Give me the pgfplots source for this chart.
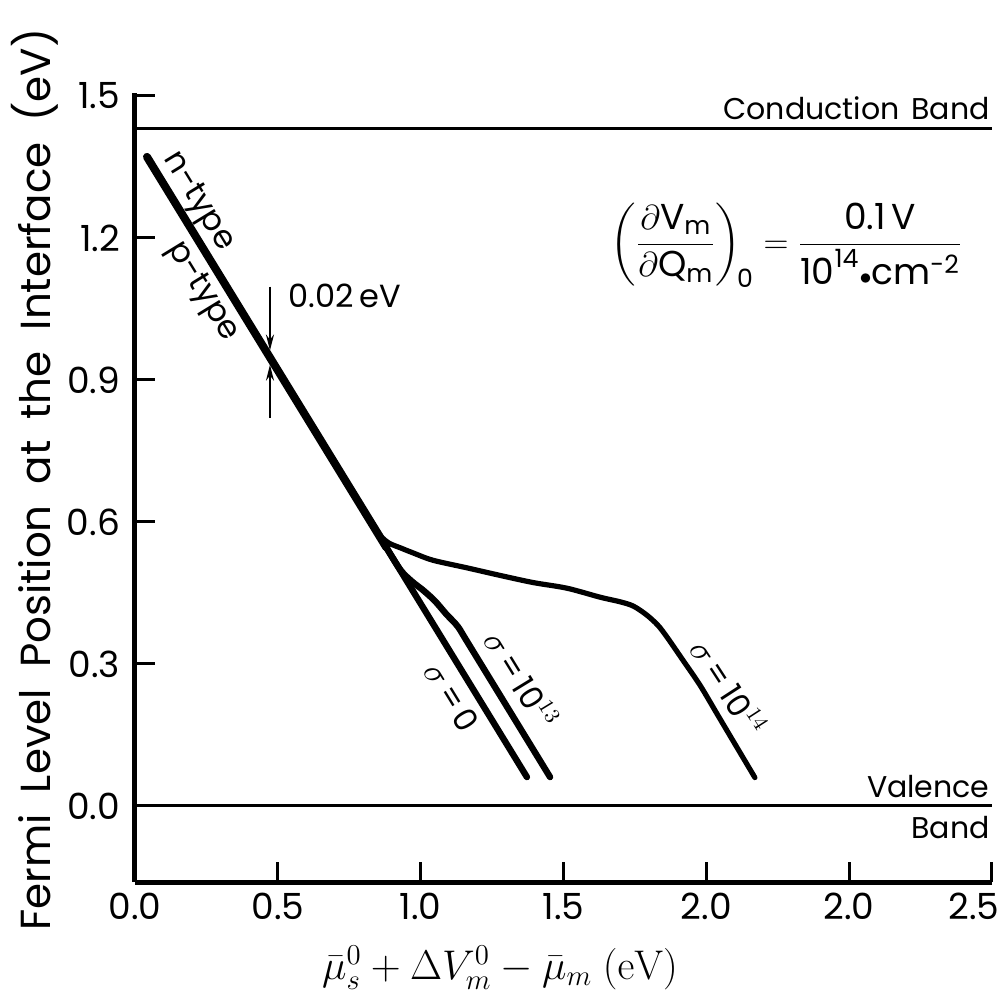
\documentclass[border=0pt]{standalone}
\usepackage{amsmath}
\usepackage{pgfplots}
\pgfplotsset{compat=1.18}
\usepackage[no-math]{fontspec}
\setmainfont{Poppins}
\usetikzlibrary{arrows.meta}
\begin{document}
\begin{tikzpicture}
\begin{axis}[
  scale only axis, width=428.5pt, height=394.5pt,
  xmin=0, xmax=3, ymin=-0.1606, ymax=1.506,
  axis x line*=bottom, axis y line*=left,
  axis line style={line width=2.5pt, -},
  every outer x axis line/.append style={-},
  every outer y axis line/.append style={-},
  xtick={0,0.5,1,1.5,2,2.5,3},
  xticklabels={0.0,0.5,1.0,1.5,2.0,2.0,\hspace*{-18pt}2.5},
  ytick={0,0.3,0.6,0.9,1.2,1.5},
  yticklabels={0.0,0.3,0.6,0.9,1.2,1.5},
  tick align=inside, major tick length=10pt,
  tick style={line width=1.5pt, black},
  ticklabel style={font=\fontsize{18}{20}\selectfont},
  xticklabel style={yshift=-2pt},
  yticklabel style={xshift=-4pt},
  clip=false,
]
% band edges
\addplot[line width=1.5pt] coordinates {(0,1.432) (3,1.432)};
\addplot[line width=1.5pt] coordinates {(0,0) (3,0)};
% sigma = 0 (straight line)
\addplot[line width=3.2pt, line cap=round] coordinates {(0.042,1.371) (1.372,0.061)};
% n-type / p-type common part
\addplot[line width=4pt, line cap=round] coordinates {(0.042,1.371) (0.88,0.546)};
% sigma = 1e13
\addplot[line width=3.2pt, line cap=round, smooth, tension=0.5] coordinates {
 (0.88,0.546) (0.93,0.498) (0.97,0.474) (1.01,0.455) (1.05,0.433) (1.09,0.405)
 (1.13,0.379) (1.17,0.340) (1.453,0.061)};
% sigma = 1e14
\addplot[line width=2.6pt, line cap=round, smooth, tension=0.5] coordinates {
 (0.80,0.624) (0.83,0.595) (0.86,0.570) (0.89,0.555) (0.93,0.545) (0.98,0.533)
 (1.043,0.519) (1.162,0.503) (1.278,0.487) (1.393,0.472) (1.512,0.460) (1.628,0.441)
 (1.70,0.431) (1.745,0.422) (1.79,0.404) (1.83,0.382) (1.862,0.357) (1.918,0.308)
 (1.978,0.255) (2.04,0.192) (2.10,0.131) (2.170,0.060)};

\node[anchor=south east, inner sep=0pt, font=\fontsize{15}{17}\selectfont] at (axis cs:2.993,1.432) [yshift=4pt] {Conduction\hspace{0.4em}Band};
\node[anchor=south east, inner sep=0pt, font=\fontsize{15}{17}\selectfont] at (axis cs:2.993,0) [yshift=4pt] {Valence};
\node[anchor=north east, inner sep=0pt, font=\fontsize{15}{17}\selectfont] at (axis cs:2.993,0) [yshift=-5pt] {Band};

\node[rotate=-58.5, font=\fontsize{16}{18}\selectfont] at (axis cs:0.22,1.276) {n-type};
\node[rotate=-58.5, font=\fontsize{16}{18}\selectfont] at (axis cs:0.235,1.086) {p-type};
\node[font=\fontsize{16}{18}\selectfont] at (axis cs:0.735,1.078) {0.02\,eV};
\draw[line width=1pt, -{Stealth[length=8pt,width=4pt]}] (axis cs:0.4725,1.097) -- (axis cs:0.4725,0.962);
\draw[line width=1pt, -{Stealth[length=8pt,width=4pt]}] (axis cs:0.4725,0.82) -- (axis cs:0.4725,0.932);

\node[font=\fontsize{18}{22}\selectfont] at (axis cs:2.28,1.185)
 {$\left(\dfrac{\partial\text{V}_{\text{m}}}{\partial\text{Q}_{\text{m}}}\right)_{\!\text{0}} = \dfrac{\text{0.1\,V}}{\text{10}^{\text{14}}{\scriptstyle\bullet}\text{cm}^{\text{-2}}}$};

\node[rotate=-58.5, font=\fontsize{16}{18}\selectfont] at (axis cs:1.11,0.230) {$\sigma$\,=\,0};
\node[rotate=-58.5, font=\fontsize{16}{18}\selectfont] at (axis cs:1.355,0.268) {$\sigma$\,=\,10$^{13}$};
\node[rotate=-57, font=\fontsize{16}{18}\selectfont] at (axis cs:2.08,0.251) {$\sigma$\,=\,10$^{14}$};

\node[font=\fontsize{20}{24}\selectfont] at ([yshift=-43pt]rel axis cs:0.426,0)
 {$\bar{\mu}_s^0 + \Delta V_m^0 - \bar{\mu}_m\ \mathrm{(eV)}$};
\node[rotate=90, font=\fontsize{21}{25}\selectfont] at ([xshift=-50pt]rel axis cs:0,0.51)
 {Fermi\hspace{0.5em}Level\hspace{0.5em}Position\hspace{0.5em}at\hspace{0.5em}the\hspace{0.5em}Interface\hspace{0.5em}(eV)};
\end{axis}
\pgfresetboundingbox
\useasboundingbox ([shift={(-67.5pt,-57.5pt)}]current axis.south west) rectangle ([shift={(5.5pt,46.5pt)}]current axis.north east);
\end{tikzpicture}
\end{document}
